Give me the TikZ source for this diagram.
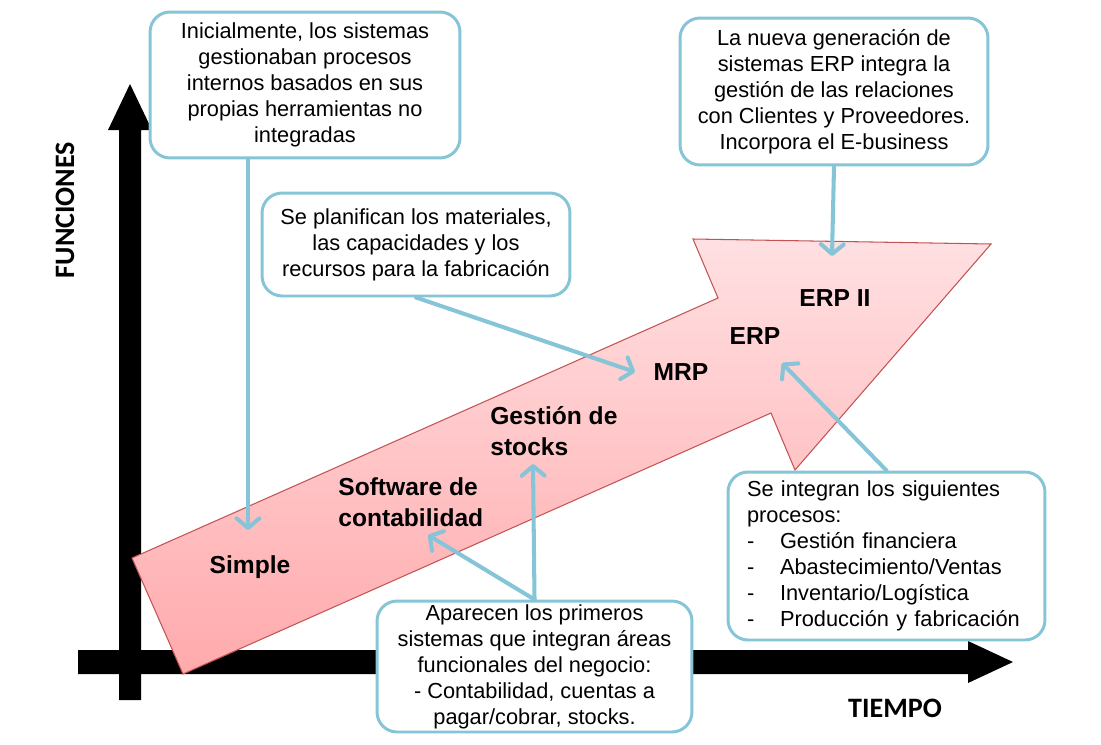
\documentclass[tikz,border=0pt]{standalone}
\usepackage{fontspec}
\setmainfont{Liberation Sans}
\newfontfamily\ejefont{Carlito}
\usepackage{xcolor}
\usepackage{tikz}
\usetikzlibrary{arrows.meta}
\definecolor{calloutblue}{RGB}{134,196,216}
\definecolor{pinklight}{RGB}{255,224,226}
\definecolor{pinkdark}{RGB}{255,170,172}
\definecolor{pinkedge}{RGB}{196,84,84}
\tikzset{callout/.style={draw=calloutblue, line width=1.7pt, rounded corners=0.4cm, fill=white,
    align=center, inner sep=0pt, font=\fontsize{12.4}{14.8}\selectfont}}
\tikzset{etapa/.style={font=\fontsize{14}{17.5}\selectfont\bfseries, align=left, inner sep=0pt}}
\tikzset{eje/.style={font=\fontsize{16}{19}\selectfont\ejefont\bfseries, inner sep=0pt}}
\tikzset{every edge/.style={draw=calloutblue, line width=2.3pt, line cap=round,
    -{Straight Barb[length=5.5pt, width=13pt, round]}}}

\begin{document}
\begin{tikzpicture}[x=0.02cm, y=-0.02cm]
    \useasboundingbox (0,0) rectangle (1101,744);

    % ejes
    \fill (119,700) -- (119,130) -- (108,130) -- (130,84) -- (152,130) -- (141,130) -- (141,700) -- cycle;
    \fill (78,650) -- (968,650) -- (968,641) -- (1013,662) -- (968,683) -- (968,674) -- (78,674) -- cycle;
    \node[eje, rotate=90] at (65, 210) (funciones) {FUNCIONES};
    \node[eje] at (895, 708) (tiempo) {TIEMPO};

    % flecha rosa
    \draw[pinkedge, line width=0.6pt, top color=pinklight, bottom color=pinkdark]
      (183,674) -- (132,558) -- (718,298) -- (693,239) -- (991,244) -- (795,470) -- (771,413) -- cycle;

    \node[etapa] at (250, 567) (simple) {Simple};
    \node[etapa, anchor=west] at (338, 502) (software) {Software de\\contabilidad};
    \node[etapa, anchor=west] at (490, 431) (stocks) {Gestión de\\stocks};
    \node[etapa] at (681, 372) (mrp) {MRP};
    \node[etapa] at (755, 336) (erp) {ERP};
    \node[etapa] at (835, 298) (erpii) {ERP II};

    % cuadros de texto
    \node[callout, minimum width=6.2cm, minimum height=2.92cm] at (305, 85) (inicial)
      {Inicialmente, los sistemas\\gestionaban procesos\\internos basados en sus\\propias herramientas no\\integradas};
    \node[callout, minimum width=6.16cm, minimum height=2.06cm] at (416, 244.5) (planifica)
      {Se planifican los materiales,\\las capacidades y los\\recursos para la fabricación};
    \node[callout, minimum width=6.16cm, minimum height=2.94cm] at (834, 91.5) (nueva)
      {La nueva generación de\\sistemas ERP integra la\\gestión de las relaciones\\con Clientes y Proveedores.\\Incorpora el E-business};
    \node[callout, align=left, text width=5.58cm, inner xsep=0.38cm, minimum height=3.36cm] at (886.5, 556) (integran)
      {Se integran los siguientes\\procesos:\\
       \makebox[0.66cm][l]{-}Gestión financiera\\
       \makebox[0.66cm][l]{-}Abastecimiento/Ventas\\
       \makebox[0.66cm][l]{-}Inventario/Logística\\
       \makebox[0.66cm][l]{-}Producción y fabricación};
    \node[callout, minimum width=6.3cm, minimum height=2.62cm] at (534.5, 666.5) (aparecen)
      {Aparecen los primeros\\sistemas que integran áreas\\funcionales del negocio:\\- Contabilidad, cuentas a\\pagar/cobrar, stocks.};

    % flechas de los cuadros
    \coordinate (aSimple) at (248, 530);
    \coordinate (aSoftware) at (428, 535);
    \coordinate (aStocks) at (533, 464);
    \coordinate (aMRP) at (635, 372);
    \coordinate (aERP) at (782, 363);
    \coordinate (aERPII) at (832, 256);

    \draw (inicial.south -| aSimple) edge (aSimple);
    \draw (planifica.south) edge (aMRP);
    \draw (nueva.south) edge (aERPII);
    \draw (integran.north) edge (aERP);
    \draw (aparecen.north) edge (aSoftware) edge (aStocks);
\end{tikzpicture}
\end{document}
